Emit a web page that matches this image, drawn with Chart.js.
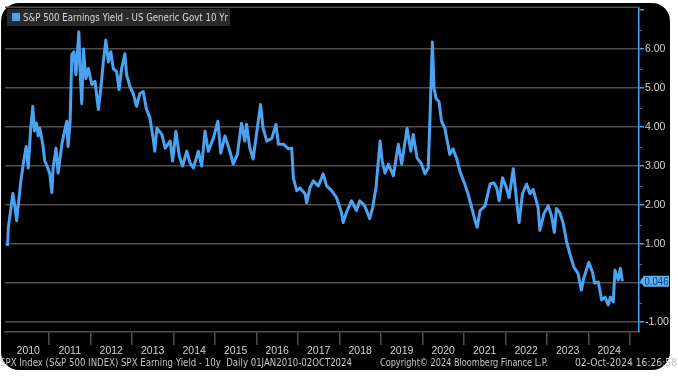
<!DOCTYPE html>
<html>
<head>
<meta charset="utf-8">
<script src="https://cdn.jsdelivr.net/npm/chart.js@4.4.1/dist/chart.umd.min.js"></script>
<style>
  html, body { margin: 0; padding: 0; background: #ffffff; }
  #wrap { position: relative; width: 678px; height: 376px; overflow: hidden; }
  #panel { position: absolute; left: 1px; top: 3px; width: 669px; height: 367px; background: #000; border-radius: 18px; }
  #yieldChart { position: absolute; left: 0; top: 0; }
</style>
</head>
<body>
<div id="wrap">
  <div id="panel"></div>
  <canvas id="yieldChart" width="678" height="376"></canvas>
</div>
<script>
// S&P 500 earnings yield minus US 10y yield (decimal years)
const dates = [
  2010.00, 2010.02, 2010.13, 2010.18, 2010.22, 2010.32, 2010.38, 2010.45, 2010.50, 2010.56,
  2010.61, 2010.65, 2010.70, 2010.74, 2010.78, 2010.85, 2010.90, 2010.97, 2011.02, 2011.07,
  2011.10, 2011.17, 2011.22, 2011.31, 2011.39, 2011.43, 2011.46, 2011.51, 2011.55, 2011.60,
  2011.65, 2011.72, 2011.75, 2011.79, 2011.83, 2011.89, 2011.95, 2012.03, 2012.11, 2012.19,
  2012.25, 2012.31, 2012.37, 2012.43, 2012.49, 2012.55, 2012.63, 2012.69, 2012.75, 2012.83,
  2012.87, 2012.95, 2013.03, 2013.11, 2013.19, 2013.27, 2013.35, 2013.43, 2013.51, 2013.55,
  2013.60, 2013.72, 2013.80, 2013.92, 2013.98, 2014.06, 2014.14, 2014.22, 2014.32, 2014.40,
  2014.48, 2014.60, 2014.68, 2014.76, 2014.84, 2014.96, 2015.07, 2015.14, 2015.24, 2015.36,
  2015.44, 2015.54, 2015.64, 2015.72, 2015.76, 2015.84, 2015.92, 2016.00, 2016.10, 2016.16,
  2016.25, 2016.37, 2016.47, 2016.53, 2016.65, 2016.77, 2016.85, 2016.89, 2016.97, 2017.05,
  2017.17, 2017.21, 2017.29, 2017.37, 2017.49, 2017.61, 2017.69, 2017.81, 2017.93, 2018.05,
  2018.09, 2018.17, 2018.29, 2018.41, 2018.49, 2018.61, 2018.73, 2018.80, 2018.88, 2018.98,
  2019.03, 2019.10, 2019.18, 2019.30, 2019.42, 2019.50, 2019.63, 2019.72, 2019.78, 2019.87,
  2019.98, 2020.06, 2020.14, 2020.18, 2020.24, 2020.28, 2020.33, 2020.40, 2020.46, 2020.54,
  2020.66, 2020.74, 2020.82, 2020.90, 2021.02, 2021.10, 2021.19, 2021.27, 2021.32, 2021.39,
  2021.51, 2021.63, 2021.72, 2021.79, 2021.85, 2021.93, 2022.01, 2022.09, 2022.19, 2022.27,
  2022.33, 2022.41, 2022.51, 2022.59, 2022.67, 2022.79, 2022.83, 2022.93, 2023.03, 2023.11,
  2023.18, 2023.23, 2023.31, 2023.39, 2023.47, 2023.55, 2023.65, 2023.75, 2023.83, 2023.89,
  2023.95, 2024.01, 2024.10, 2024.15, 2024.24, 2024.32, 2024.40, 2024.48, 2024.53, 2024.60,
  2024.64, 2024.72, 2024.77, 2024.82
];
const yieldGap = [
  0.95, 1.42, 2.30, 1.95, 1.60, 2.60, 3.05, 3.50, 2.95, 3.97,
  4.53, 3.90, 4.10, 3.77, 3.97, 3.56, 3.13, 2.95, 2.80, 2.32,
  2.95, 3.46, 2.82, 3.56, 3.97, 4.15, 3.50, 4.15, 5.85, 5.93,
  5.34, 6.44, 5.42, 4.60, 6.00, 5.24, 5.50, 5.09, 5.17, 4.45,
  5.00, 5.67, 6.23, 5.67, 5.93, 5.50, 5.42, 4.96, 5.50, 5.88,
  5.34, 5.04, 4.86, 4.53, 4.86, 4.91, 4.45, 4.25, 3.71, 3.38,
  3.97, 3.81, 3.46, 3.64, 3.13, 3.89, 3.26, 3.00, 3.38, 3.08,
  2.95, 3.38, 3.00, 3.89, 3.38, 3.71, 4.15, 3.33, 3.77, 3.38,
  3.05, 3.30, 4.10, 3.64, 4.07, 3.46, 3.18, 3.81, 4.58, 3.97,
  3.64, 3.71, 4.07, 3.56, 3.56, 3.44, 3.46, 2.70, 2.37, 2.44,
  2.29, 2.06, 2.44, 2.62, 2.49, 2.80, 2.49, 2.37, 2.19, 1.81,
  1.55, 1.81, 2.11, 1.86, 2.11, 1.98, 1.65, 1.93, 2.44, 3.64,
  3.13, 2.82, 3.05, 2.75, 3.56, 3.05, 3.97, 3.38, 3.81, 3.21,
  3.05, 2.80, 2.95, 4.15, 6.18, 5.00, 4.73, 4.65, 4.15, 3.97,
  3.30, 3.44, 3.21, 2.88, 2.54, 2.29, 1.93, 1.60, 1.43, 1.86,
  1.98, 2.54, 2.57, 2.44, 2.11, 2.70, 2.49, 2.19, 2.93, 2.11,
  1.55, 2.29, 2.54, 2.29, 2.40, 1.93, 1.35, 1.78, 1.98, 1.73,
  1.30, 1.91, 1.81, 1.55, 1.09, 0.76, 0.41, 0.25, -0.18, 0.13,
  0.33, 0.53, 0.28, 0.00, 0.03, -0.43, -0.36, -0.56, -0.36, -0.48,
  0.33, 0.08, 0.38, 0.046
];
const years = [2010, 2011, 2012, 2013, 2014, 2015, 2016, 2017, 2018, 2019, 2020, 2021, 2022, 2023, 2024];
const yTicks = [-1, 0, 1, 2, 3, 4, 5, 6, 7];
const lastValue = "0.046";
const titleText = "S&P 500 Earnings Yield - US Generic Govt 10 Yr";
const footLeft = "SPX Index (S&P 500 INDEX) SPX Earning Yield - 10y  Daily 01JAN2010-02OCT2024";
const footMid = "Copyright\u00a9 2024 Bloomberg Finance L.P.";
const footRight = "02-Oct-2024 16:26:58";

const blue = "#4aa3f2";
const gridGray = "#4e4e4e";
const textGray = "#d2d2d2";

const points = dates.map((d, i) => ({ x: d, y: yieldGap[i] }));

const decor = {
  id: "decor",
  beforeDatasetsDraw(chart) {
    const { ctx, chartArea } = chart;
    ctx.save();
    ctx.strokeStyle = gridGray;
    ctx.lineWidth = 1.5;
    ctx.beginPath();
    ctx.moveTo(chartArea.left, chartArea.top);
    ctx.lineTo(chartArea.right, chartArea.top);
    ctx.stroke();
    ctx.restore();
  },
  afterDraw(chart) {
    const { ctx, chartArea, scales } = chart;
    const x = scales.x, y = scales.y;
    ctx.save();

    // minor ticks at half steps
    ctx.strokeStyle = "#3f6f9a";
    ctx.lineWidth = 1;
    for (let i = 0; i < yTicks.length - 1; i++) {
      const py = Math.round(y.getPixelForValue(yTicks[i] + 0.5)) + 0.5;
      ctx.beginPath();
      ctx.moveTo(chartArea.right, py);
      ctx.lineTo(chartArea.right + 3, py);
      ctx.stroke();
    }

    // year labels centred in each year
    ctx.fillStyle = textGray;
    ctx.font = "10.5px 'Liberation Sans'";
    ctx.textAlign = "center";
    ctx.textBaseline = "middle";
    years.forEach((yr) => {
      ctx.fillText(String(yr), x.getPixelForValue(yr + 0.5), 351);
    });

    // footer
    ctx.textAlign = "left";
    ctx.font = "10px 'DejaVu Sans'";
    ctx.fillStyle = "#c4c4c4";
    ctx.fillText(footLeft, 0, 363, 352);
    ctx.fillText(footMid, 380, 363, 168);
    ctx.fillText(footRight, 575, 363, 102);

    // title box
    ctx.fillStyle = "#2a2a2a";
    ctx.fillRect(7, 9, 223, 17);
    ctx.fillStyle = blue;
    ctx.fillRect(12, 13, 8, 8);
    ctx.fillStyle = "#d8d8d8";
    ctx.font = "10px 'DejaVu Sans'";
    ctx.fillText(titleText, 23, 18, 205);

    // last value badge
    const by = y.getPixelForValue(yieldGap[yieldGap.length - 1]);
    const bx = chartArea.right + 1;
    ctx.fillStyle = "#5aaef2";
    ctx.beginPath();
    ctx.moveTo(bx, by);
    ctx.lineTo(bx + 4, by - 5.5);
    ctx.lineTo(bx + 29, by - 5.5);
    ctx.lineTo(bx + 29, by + 5.5);
    ctx.lineTo(bx + 4, by + 5.5);
    ctx.closePath();
    ctx.fill();
    ctx.fillStyle = "#12406e";
    ctx.font = "10px 'Liberation Sans'";
    ctx.textAlign = "center";
    ctx.fillText(lastValue, bx + 16.5, by + 0.5, 24);

    ctx.restore();
  }
};

const chart = new Chart(document.getElementById("yieldChart").getContext("2d"), {
  type: "line",
  data: {
    datasets: [
      {
        label: titleText,
        data: points,
        borderColor: blue,
        borderWidth: 3,
        borderJoinStyle: "round",
        pointRadius: 0,
        tension: 0,
        fill: false,
      },
    ],
  },
  options: {
    responsive: false,
    animation: false,
    events: [],
    layout: { padding: { left: 5, top: 5, right: 0, bottom: 0 } },
    plugins: { legend: { display: false }, tooltip: { enabled: false } },
    scales: {
      x: {
        type: "linear",
        min: 2009.94,
        max: 2025.22,
        afterBuildTicks: (scale) => {
          scale.ticks = years.map((yr) => ({ value: yr + 1 }));
        },
        afterFit: (scale) => { scale.height = 44; },
        ticks: { display: false },
        grid: {
          drawOnChartArea: false,
          drawTicks: true,
          tickLength: 13,
          color: gridGray,
          lineWidth: 1.5,
        },
        border: { display: true, color: gridGray, width: 1.5 },
      },
      y: {
        position: "right",
        min: -1.254,
        max: 7.07,
        afterBuildTicks: (scale) => {
          scale.ticks = yTicks.map((v) => ({ value: v }));
        },
        afterFit: (scale) => { scale.width = 39; },
        ticks: {
          color: textGray,
          padding: 1,
          font: { family: "'Liberation Sans'", size: 10.5 },
          callback: (v) => (v === 7 ? "" : Number(v).toFixed(2)),
        },
        grid: {
          color: (c) => (c.tick && c.tick.value === 7 ? "rgba(0,0,0,0)" : gridGray),
          tickColor: blue,
          tickLength: 5,
          lineWidth: 1.5,
        },
        border: { display: true, color: blue, width: 1.5 },
      },
    },
  },
  plugins: [decor],
});
</script>
</body>
</html>
